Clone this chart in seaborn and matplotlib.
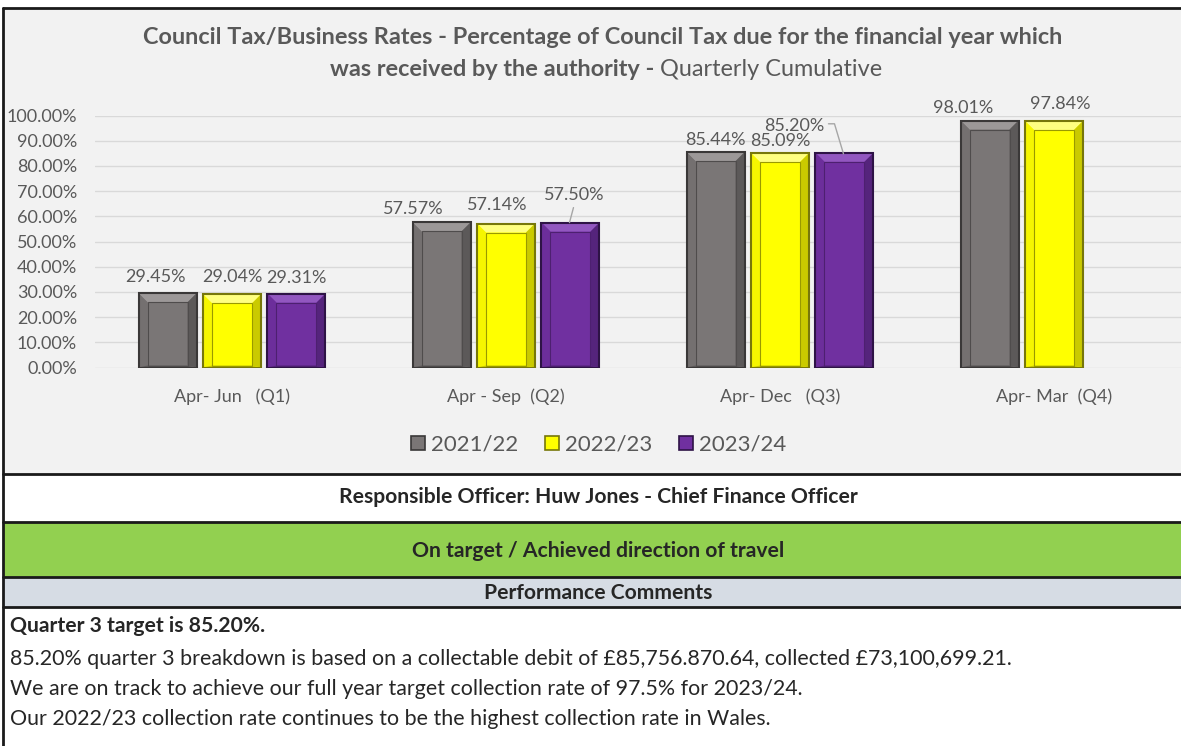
import numpy as np
import pandas as pd
import matplotlib
matplotlib.use("Agg")
import matplotlib.pyplot as plt
from matplotlib.patches import Polygon, Rectangle, Patch
from matplotlib.lines import Line2D
from matplotlib.transforms import IdentityTransform
from matplotlib.ticker import FuncFormatter
import seaborn as sns

# ---------------------------------- data ----------------------------------
quarters = ["Apr- Jun   (Q1)", "Apr - Sep  (Q2)", "Apr- Dec   (Q3)", "Apr- Mar  (Q4)"]
years = ["2021/22", "2022/23", "2023/24"]
pct_2122 = [29.45, 57.57, 85.44, 98.01]
pct_2223 = [29.04, 57.14, 85.09, 97.84]
pct_2324 = [29.31, 57.50, 85.20, np.nan]
y_ticks = [0, 10, 20, 30, 40, 50, 60, 70, 80, 90, 100]

title_line1 = "Council Tax/Business Rates - Percentage of Council Tax due for the financial year which"
title_bold2 = "was received by the authority -"
title_light2 = "Quarterly Cumulative"
officer = "Responsible Officer: Huw Jones - Chief Finance Officer"
status = "On target / Achieved direction of travel"
comments_head = "Performance Comments"
comment_bold = "Quarter 3 target is 85.20%."
comment_lines = [
    "85.20% quarter 3 breakdown is based on a collectable debit of £85,756.870.64, collected £73,100,699.21.",
    "We are on track to achieve our full year target collection rate of 97.5% for 2023/24.",
    "Our 2022/23 collection rate continues to be the highest collection rate in Wales.",
]

df = pd.DataFrame({
    "quarter": quarters * 3,
    "year": np.repeat(years, len(quarters)),
    "pct": pct_2122 + pct_2223 + pct_2324,
})

# ---------------------------------- styles ----------------------------------
# face, light bevel, side bevel, dark bevel, outer edge, inner line
bar_styles = {
    "2021/22": ("#7a7676", "#9c9898", "#747070", "#5c5959", "#3a3838", "#4f4c4c"),
    "2022/23": ("#ffff00", "#ffff80", "#f6f600", "#caca00", "#77770a", "#999900"),
    "2023/24": ("#7030a0", "#9257c0", "#6c2e9b", "#55247c", "#2e1346", "#4d2070"),
}
# where Excel's labels were dragged to (pixels right / up from bar top)
label_nudge = {
    (0, 0): (-12, 16), (1, 0): (0, 17), (2, 0): (0, 16),
    (0, 1): (-28, 13), (1, 1): (-9, 19), (2, 1): (4, 28),
    (0, 2): (0, 12), (1, 2): (0, 12), (2, 2): (-50, 27),
    (0, 3): (-26, 13), (1, 3): (6, 17),
}
leaders = {
    (2, 1): [(-1, 0), (3, 15)],
    (2, 2): [(-1, -1), (-10, 29), (-16, 29)],
}
grey_txt = "#595959"

W, H = 1181, 746
sns.set_style("white")
plt.rcParams["font.family"] = ["Lato", "DejaVu Sans"]

fig = plt.figure(figsize=(W / 100, H / 100), dpi=100)
fig.patch.set_facecolor("white")


def fx(x):
    return x / W


def fy(y):
    return 1 - y / H


# table background / rows
fig.add_artist(Rectangle((fx(3), fy(474)), fx(1181) - fx(3), fy(8) - fy(474),
                         transform=fig.transFigure, facecolor="#f2f2f2", edgecolor="none", zorder=-5))
fig.add_artist(Rectangle((fx(3), fy(577)), 1, fy(522) - fy(577),
                         transform=fig.transFigure, facecolor="#92d050", edgecolor="none", zorder=-5))
fig.add_artist(Rectangle((fx(3), fy(607)), 1, fy(577) - fy(607),
                         transform=fig.transFigure, facecolor="#d6dce4", edgecolor="none", zorder=-5))
for yy in [8, 474, 522, 577, 607]:
    fig.add_artist(Line2D([fx(3), 1], [fy(yy), fy(yy)], transform=fig.transFigure,
                          color="#1a1a1a", lw=2, zorder=5))
fig.add_artist(Line2D([fx(3), fx(3)], [fy(8), 0], transform=fig.transFigure,
                      color="#1a1a1a", lw=2, zorder=5))

# ---------------------------------- chart ----------------------------------
ax = fig.add_axes([fx(95), fy(367.5), fx(1191) - fx(95), fy(115.5) - fy(367.5)])
ax.patch.set_visible(False)
sns.barplot(data=df, x="quarter", y="pct", hue="year", order=quarters, hue_order=years,
            palette=[bar_styles[y][0] for y in years], saturation=1, width=0.706, gap=0.1,
            errorbar=None, legend=False, ax=ax, linewidth=0, zorder=3)

ax.set_xlim(-0.5, 3.5)
ax.set_ylim(0, 100)
ax.set_yticks(y_ticks)
ax.yaxis.set_major_formatter(FuncFormatter(lambda v, p: f"{v:.2f}%"))
ax.grid(axis="y", color="#d9d9d9", lw=1, zorder=0)
ax.set_axisbelow(True)
for s in ax.spines.values():
    s.set_visible(False)
ax.set_xlabel("")
ax.set_ylabel("")
ax.tick_params(axis="y", length=0, pad=13, labelsize=13, labelcolor=grey_txt)
ax.tick_params(axis="x", length=0, pad=15, labelsize=13, labelcolor=grey_txt)

fig.canvas.draw()
ident = IdentityTransform()


def add_bevel(bar, style):
    face, light, side, dark, edge, inner = style
    (x0, y0), (x1, y1) = ax.transData.transform(
        [(bar.get_x(), 0), (bar.get_x() + bar.get_width(), bar.get_height())])
    s, b = 9, 2
    polys = [
        ([(x0, y1), (x1, y1), (x1 - s, y1 - s), (x0 + s, y1 - s)], light),
        ([(x0, y0), (x0, y1), (x0 + s, y1 - s), (x0 + s, y0 + b)], side),
        ([(x1, y0), (x1, y1), (x1 - s, y1 - s), (x1 - s, y0 + b)], dark),
        ([(x0, y0), (x1, y0), (x1 - s, y0 + b), (x0 + s, y0 + b)], dark),
    ]
    for pts, c in polys:
        ax.add_patch(Polygon(pts, closed=True, facecolor=c, edgecolor="none",
                             transform=ident, zorder=4))
    ax.add_patch(Rectangle((x0 + s, y0 + b), x1 - x0 - 2 * s, y1 - y0 - s - b, fill=False,
                           edgecolor=inner, lw=0.8, transform=ident, zorder=5))
    ax.add_patch(Rectangle((x0, y0), x1 - x0, y1 - y0, fill=False,
                           edgecolor=edge, lw=1.5, transform=ident, zorder=6))
    return (x0 + x1) / 2, y1


for hi, cont in enumerate(ax.containers):
    for bar in cont:
        h = bar.get_height()
        if not np.isfinite(h) or h <= 0:
            continue
        qi = int(round(bar.get_x() + bar.get_width() / 2))
        cx, top = add_bevel(bar, bar_styles[years[hi]])
        dx, dy = label_nudge.get((hi, qi), (0, 15))
        ax.text(cx + dx, top + dy, f"{h:.2f}%", transform=ident, ha="center", va="center",
                fontsize=13, color=grey_txt, zorder=7)
        if (hi, qi) in leaders:
            pts = leaders[(hi, qi)]
            ax.add_line(Line2D([cx + p[0] for p in pts], [top + p[1] for p in pts],
                               transform=ident, color="#a6a6a6", lw=1, zorder=7))

# legend
handles = [Patch(facecolor=bar_styles[y][0], edgecolor=bar_styles[y][4], lw=1.2) for y in years]
fig.legend(handles, years, loc="center", bbox_to_anchor=(fx(599), fy(445)), ncol=3,
           frameon=False, fontsize=16, labelcolor=grey_txt, handlelength=0.6, handleheight=0.6,
           handletextpad=0.3, columnspacing=1.2)

# title
fig.text(fx(603), fy(38), title_line1, ha="center", va="center", fontsize=16.9,
         fontweight="bold", color=grey_txt)
fig.text(fx(654), fy(70), title_bold2, ha="right", va="center", fontsize=16.9,
         fontweight="bold", color=grey_txt)
fig.text(fx(660), fy(70), title_light2, ha="left", va="center", fontsize=16.9, color=grey_txt)

# table rows
fig.text(fx(598), fy(497), officer, ha="center", va="center", fontsize=15.2, fontweight="bold")
fig.text(fx(598), fy(551), status, ha="center", va="center", fontsize=15.2, fontweight="bold")
fig.text(fx(598), fy(593), comments_head, ha="center", va="center", fontsize=15.2, fontweight="bold")
fig.text(fx(10), fy(626), comment_bold, ha="left", va="center", fontsize=15.2, fontweight="bold")
for i, line in enumerate(comment_lines):
    fig.text(fx(10), fy(659 + 30 * i), line, ha="left", va="center", fontsize=15.4)

fig.savefig("out.png", dpi=100)
